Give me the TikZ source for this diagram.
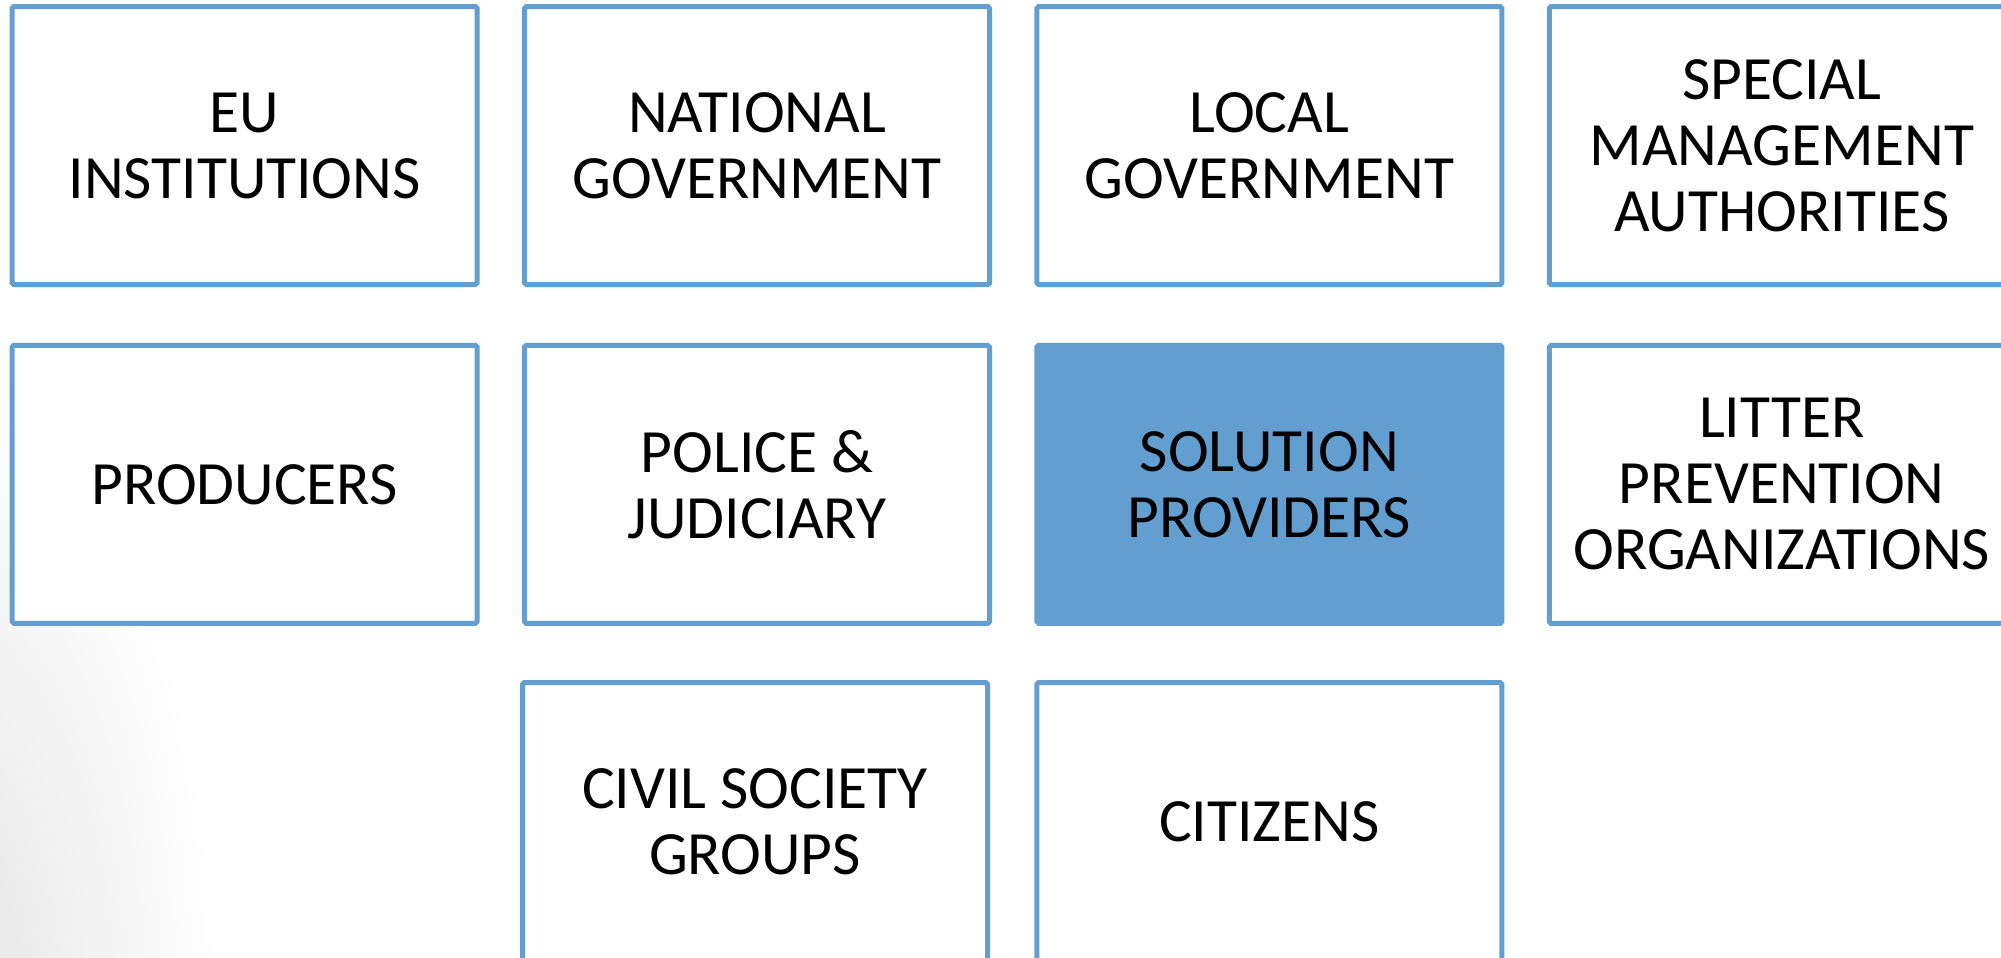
\documentclass[tikz,border=0pt]{standalone}
\usepackage{fontspec}
\setmainfont{Carlito}
\definecolor{slideblue}{RGB}{99,158,209}
\begin{document}
\begin{tikzpicture}
	[
	box/.style = {draw = slideblue, line width = 1.42pt, fill = white, rounded corners = 0.5pt,
		minimum width = 4.65cm, minimum height = 2.78cm, align = center, inner sep = 0pt,
		font = \fontsize{17.5}{18.8}\selectfont},
	selectedbox/.style = {box, fill = slideblue}]
	
	%% canvas and the faint slide shading
	\useasboundingbox (0, 0) rectangle (20.01, -9.57);
	\shade[inner color = black!11, outer color = white] (-0.6, -10.2) ellipse (2.8cm and 6.5cm);
	
	%% first row
	\node[box] (eu) at (2.446, -1.456) {EU\\INSTITUTIONS};
	\node[box] (national) at (7.570, -1.456) {NATIONAL\\GOVERNMENT};
	\node[box] (local) at (12.694, -1.456) {LOCAL\\GOVERNMENT};
	\node[box] (special) at (17.818, -1.456) {SPECIAL\\MANAGEMENT\\AUTHORITIES};
	
	%% second row
	\node[box] (producers) at (2.446, -4.843) {PRODUCERS};
	\node[box] (police) at (7.570, -4.843) {POLICE \&\\JUDICIARY};
	\node[selectedbox] (solution) at (12.694, -4.843) {SOLUTION\\PROVIDERS};
	\node[box] (litter) at (17.818, -4.843) {LITTER\\PREVENTION\\ORGANIZATIONS};
	
	%% third row
	\node[box] (civil) at (7.550, -8.215) {CIVIL SOCIETY\\GROUPS};
	\node[box] (citizens) at (12.694, -8.215) {CITIZENS};
\end{tikzpicture}
\end{document}
